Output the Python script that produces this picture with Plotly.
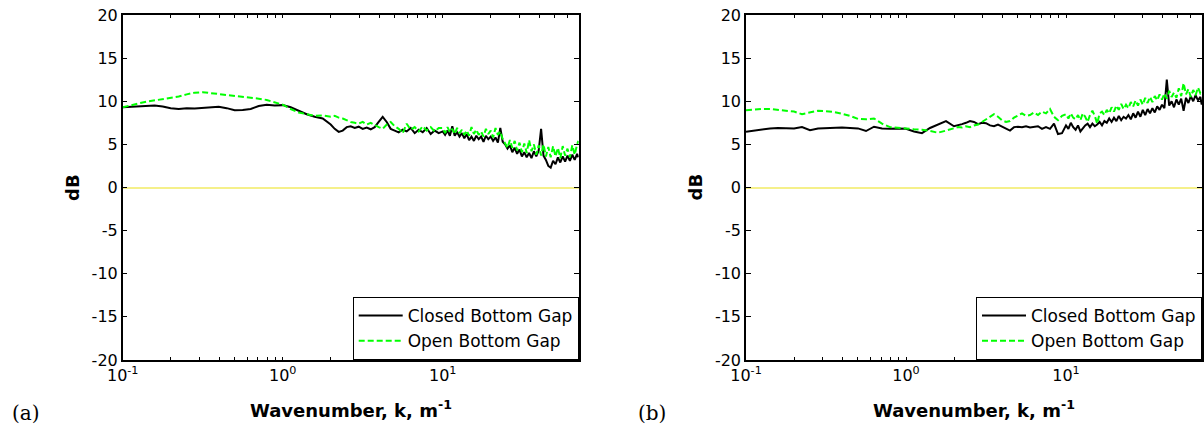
import plotly.graph_objects as go

W, H = 1204, 429

# log10 of wavenumber sample positions (shared by both panels)
LOG_K = [-1.00, -0.95, -0.90, -0.85, -0.80, -0.75, -0.70, -0.65, -0.60, -0.55,
         -0.50, -0.45, -0.40, -0.35, -0.30, -0.25, -0.20, -0.15, -0.10, -0.05,
         0.00, 0.05, 0.10, 0.15, 0.20, 0.25,
         0.300, 0.325, 0.350, 0.375, 0.400, 0.425, 0.450, 0.475, 0.500, 0.525,
         0.550, 0.575, 0.600, 0.625, 0.650, 0.675, 0.700, 0.725, 0.750, 0.775,
         0.800, 0.825, 0.850, 0.875, 0.900, 0.925, 0.950, 0.975,
         1.000, 1.015, 1.030, 1.045, 1.060, 1.075, 1.090, 1.105, 1.120, 1.135,
         1.150, 1.165, 1.180, 1.195, 1.210, 1.225, 1.240, 1.255, 1.270, 1.285,
         1.300, 1.315, 1.330, 1.345, 1.360, 1.375, 1.390, 1.405, 1.420, 1.435,
         1.450, 1.465, 1.480, 1.495, 1.510, 1.525, 1.540, 1.555, 1.570, 1.585,
         1.600, 1.615, 1.630, 1.645, 1.660, 1.675, 1.690, 1.705, 1.720, 1.735,
         1.750, 1.765, 1.780, 1.795, 1.810, 1.825, 1.840, 1.848]

# Panel (a)
A_CLOSED = [9.3, 9.35, 9.4, 9.45, 9.5, 9.4, 9.2, 9.1, 9.2, 9.15,
            9.2, 9.3, 9.35, 9.2, 8.95, 9.0, 9.1, 9.45, 9.6, 9.5,
            9.55, 9.3, 8.9, 8.5, 8.2, 8.0,
            7.3, 6.8, 6.45, 6.6, 7.0, 7.1, 6.9, 7.05, 6.8, 6.95,
            6.75, 7.0, 7.6, 8.2, 7.6, 6.8, 6.6, 6.4, 6.7, 6.5,
            6.9, 6.3, 6.7, 6.4, 6.9, 6.2, 6.6, 6.3,
            6.5, 6.1, 6.6, 6.0, 7.1, 6.0, 6.4, 5.9, 6.3, 5.7,
            6.2, 5.5, 5.9, 5.4, 6.0, 5.6, 5.9, 5.3, 6.0, 5.6,
            5.9, 5.4, 5.8, 5.2, 6.9, 5.3, 5.0, 4.5, 4.9, 4.1,
            4.6, 3.9, 4.4, 3.6, 4.1, 3.5, 4.0, 3.4, 4.2, 3.6,
            4.3, 6.8, 3.7, 3.2, 2.5, 2.3, 3.1, 2.7, 3.5, 2.9,
            3.6, 3.0, 3.7, 3.1, 3.8, 3.2, 3.9, 3.5]
A_OPEN = [9.3, 9.55, 9.75, 9.95, 10.1, 10.2, 10.35, 10.55, 10.8, 11.0,
          11.05, 10.95, 10.85, 10.75, 10.6, 10.55, 10.45, 10.3, 10.15, 9.9,
          9.6, 9.1, 8.7, 8.5, 8.3, 8.35,
          8.2, 8.3, 8.1, 8.0, 7.8, 7.6, 7.5, 7.4, 7.6, 7.3,
          7.5, 7.2, 7.0, 6.8, 7.3, 7.6, 7.1, 6.8, 6.3, 7.4,
          6.7, 7.0, 6.5, 7.1, 6.6, 7.0, 6.5, 6.9,
          6.9, 6.3, 7.0, 6.4, 6.8, 6.2, 6.9, 6.3, 6.7, 6.1,
          6.6, 6.0, 7.0, 6.2, 6.7, 6.1, 6.5, 5.9, 6.8, 6.2,
          6.6, 5.8, 6.9, 6.1, 6.5, 5.6, 5.0, 4.6, 5.5, 4.6,
          5.4, 4.3, 5.2, 4.1, 5.1, 4.0, 5.5, 4.2, 5.0, 3.8,
          4.9, 3.7, 5.0, 3.6, 4.7, 3.5, 4.8, 3.6, 4.6, 3.4,
          4.8, 3.7, 4.5, 3.5, 4.9, 3.8, 5.0, 5.4]

# Panel (b)
B_CLOSED = [6.45, 6.6, 6.75, 6.85, 6.9, 6.85, 6.85, 7.0, 6.65, 6.85,
            6.9, 6.9, 6.95, 6.9, 6.85, 6.55, 7.05, 6.85, 6.8, 6.85,
            6.8, 6.5, 6.3, 6.9, 7.3, 7.7,
            7.1, 7.2, 7.35, 7.5, 7.7, 7.6, 7.35, 7.5, 7.45, 7.2,
            7.1, 7.3, 7.05, 6.9, 6.6, 7.0, 7.05, 7.0, 7.1, 6.95,
            7.05, 7.1, 6.8, 7.0, 6.8, 7.4, 6.2, 6.3,
            7.2, 6.8, 7.5, 7.0, 6.7, 7.2, 6.5, 6.9, 7.2, 7.4,
            7.0, 7.4, 7.1, 7.3, 7.6, 7.2, 7.7, 7.5, 8.0, 7.6,
            8.1, 7.7, 8.3, 7.8, 8.2, 8.0, 8.4, 7.9, 8.6, 8.1,
            8.8, 8.2, 9.0, 8.4, 9.1, 8.6, 9.2, 8.7, 9.4, 9.0,
            9.6, 9.2, 12.5, 9.5, 10.0, 9.3, 10.2, 9.6, 10.3, 8.9,
            10.4, 9.8, 10.6, 10.0, 10.7, 10.1, 10.5, 9.6]
B_OPEN = [8.95, 9.05, 9.1, 9.1, 9.0, 8.9, 8.8, 8.5, 8.7, 8.9,
          8.85, 8.75, 8.55, 8.3, 7.95, 7.9, 8.0, 7.4, 7.0, 6.95,
          6.85, 6.75, 6.7, 6.55, 6.35, 6.6,
          6.9, 7.0, 6.95, 7.1, 7.0, 7.2, 7.3, 7.6, 7.9, 8.3,
          8.5, 8.2, 7.8, 7.6, 7.7, 8.1, 8.4, 8.6, 8.3, 8.4,
          8.7, 8.4, 8.8, 8.6, 9.1, 8.2, 7.8, 8.3,
          8.5, 8.0, 8.6, 8.1, 7.9, 8.4, 7.8, 8.6, 8.2, 7.6,
          8.4, 8.9, 8.3, 7.4, 8.6, 8.8, 8.4, 9.0, 8.6, 9.3,
          8.8, 9.5, 9.0, 9.7, 9.1, 9.6, 9.2, 9.9, 9.4, 10.1,
          9.5, 10.2, 9.6, 10.4, 9.8, 10.5, 9.9, 10.6, 10.1, 10.8,
          10.2, 10.9, 10.3, 11.2, 10.5, 11.0, 10.4, 11.5, 10.6, 12.1,
          10.8, 11.4, 10.5, 11.3, 10.7, 11.6, 10.9, 11.0]

SERIES_NAMES = ["Closed Bottom Gap", "Open Bottom Gap"]
PANEL_LABELS = ["(a)", "(b)"]
Y_TICKS = [-20, -15, -10, -5, 0, 5, 10, 15, 20]
Y_TICK_TEXT = ["-20", "-15", "-10", "-5", "0", "5", "10", "15", "20"]
X_TICKS = [0.1, 0.2, 0.3, 0.4, 0.5, 0.6, 0.7, 0.8, 0.9,
           1, 2, 3, 4, 5, 6, 7, 8, 9,
           10, 20, 30, 40, 50, 60, 70]
X_TICK_TEXT = ["10<sup>-1</sup>", "", "", "", "", "", "", "", "",
               "10<sup>0</sup>", "", "", "", "", "", "", "", "",
               "10<sup>1</sup>", "", "", "", "", "", ""]

for arr in (A_CLOSED, A_OPEN, B_CLOSED, B_OPEN):
    assert len(arr) == len(LOG_K), len(arr)

K = [10 ** v for v in LOG_K]

FONT = "DejaVu Sans"

def px_x(p):
    return p / W

def px_y(p):
    return 1 - p / H

fig = go.Figure()

panels = [("x", "y", "legend", A_CLOSED, A_OPEN),
          ("x2", "y2", "legend2", B_CLOSED, B_OPEN)]
for xa, ya, lg, closed, opened in panels:
    fig.add_trace(go.Scatter(x=K, y=closed, mode="lines", name=SERIES_NAMES[0],
                             line=dict(color="black", width=2),
                             xaxis=xa, yaxis=ya, legend=lg, legendgroup="c" + xa))
    fig.add_trace(go.Scatter(x=K, y=opened, mode="lines", name=SERIES_NAMES[1],
                             line=dict(color="#00ff00", width=2, dash="6px,3px"),
                             xaxis=xa, yaxis=ya, legend=lg, legendgroup="o" + xa))

ydom = [px_y(360), px_y(15)]
xdoms = [[px_x(122.7), px_x(578.7)], [px_x(746), px_x(1202)]]

def xaxis_cfg(dom, anchor):
    return dict(domain=dom, anchor=anchor, type="log", range=[-1, 1.85],
                automargin=False,
                showline=True, linecolor="black", linewidth=1.5, mirror="ticks",
                ticks="inside", ticklen=3, tickcolor="black", tickwidth=1,
                tickmode="array", tickvals=X_TICKS, ticktext=X_TICK_TEXT,
                tickfont=dict(family=FONT, size=16, color="black"),
                showgrid=False, zeroline=False)

def yaxis_cfg(anchor):
    return dict(domain=ydom, anchor=anchor, range=[-20, 20],
                automargin=False,
                showline=True, linecolor="black", linewidth=1.5, mirror="ticks",
                ticks="inside", ticklen=5, tickcolor="black", tickwidth=1,
                tickmode="array", tickvals=Y_TICKS, ticktext=Y_TICK_TEXT,
                tickfont=dict(family=FONT, size=16, color="black"),
                showgrid=False, zeroline=True, zerolinecolor="#f5f08a",
                zerolinewidth=1.5)

legend_common = dict(bgcolor="white", bordercolor="black", borderwidth=1,
                     font=dict(family=FONT, size=17, color="black"),
                     xanchor="right", yanchor="bottom", y=px_y(360),
                     tracegroupgap=3, itemwidth=44, traceorder="normal")

fig.update_layout(
    width=W, height=H,
    margin=dict(l=0, r=0, t=0, b=0),
    paper_bgcolor="white", plot_bgcolor="white",
    xaxis=xaxis_cfg(xdoms[0], "y"),
    yaxis=yaxis_cfg("x"),
    xaxis2=xaxis_cfg(xdoms[1], "y2"),
    yaxis2=yaxis_cfg("x2"),
    legend=dict(x=px_x(578.7), **legend_common),
    legend2=dict(x=px_x(1202), **legend_common),
)

ann = []
for i, (dom, lbl_x, db_x) in enumerate(zip(xdoms, [26, 652], [72.5, 695])):
    ann.append(dict(text="<b>Wavenumber, k, m<sup>-1</sup></b>", xref="paper", yref="paper",
                    x=(dom[0] + dom[1]) / 2, y=px_y(409), xanchor="center", yanchor="middle",
                    showarrow=False, font=dict(family=FONT, size=18, color="black")))
    ann.append(dict(text="<b>dB</b>", xref="paper", yref="paper", textangle=-90,
                    x=px_x(db_x), y=px_y(187.5), xanchor="center", yanchor="middle",
                    showarrow=False, font=dict(family=FONT, size=18, color="black")))
    ann.append(dict(text=PANEL_LABELS[i], xref="paper", yref="paper",
                    x=px_x(lbl_x), y=px_y(413), xanchor="center", yanchor="middle",
                    showarrow=False, font=dict(family="DejaVu Serif", size=20, color="black")))
fig.update_layout(annotations=ann)

fig.write_html("out.html")
